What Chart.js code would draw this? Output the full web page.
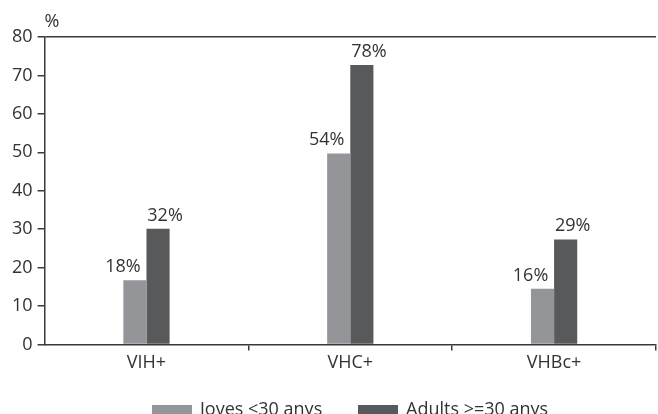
<!DOCTYPE html>
<html>
<head>
<meta charset="utf-8">
<script src="https://cdn.jsdelivr.net/npm/chart.js@4"></script>
<style>
  body { margin: 0; width: 658px; height: 414px; overflow: hidden; background: #fff; position: relative; }
  #wrap { position: absolute; left: 0; top: 0; width: 658px; height: 414px; }
  #legend { position: absolute; top: 397px; left: 0; width: 658px; font-family: "Open Sans", sans-serif; font-size: 18px; color: #333; }
  .item { position: absolute; top: 0; white-space: nowrap; line-height: 22px; }
  .box { display: inline-block; width: 40px; height: 17px; vertical-align: top; margin-top: 8px; margin-right: 8px; }
</style>
</head>
<body>
<div id="wrap"><canvas id="chart" width="658" height="414"></canvas></div>
<div id="legend"></div>
<script>
const categories = ['VIH+', 'VHC+', 'VHBc+'];
const seriesNames = ['Joves <30 anys', 'Adults >=30 anys'];
const joves = [16.7, 49.7, 14.5];
const adults = [30.1, 72.7, 27.3];
const jovesLabels = ['18%', '54%', '16%'];
const adultsLabels = ['32%', '78%', '29%'];
const colors = ['#939598', '#58595b'];

const axisColor = '#3a3a3a';
const textColor = '#333333';
const font = { family: '"Open Sans", sans-serif', size: 18 };

// value labels above the bars, shifted outward like the original
const barLabels = {
    id: 'barLabels',
    afterDatasetsDraw(chart) {
        const ctx = chart.ctx;
        const texts = [jovesLabels, adultsLabels];
        const dx = [-12, 7];
        ctx.save();
        ctx.font = '18px "Open Sans", sans-serif';
        ctx.fillStyle = textColor;
        ctx.textAlign = 'center';
        ctx.textBaseline = 'alphabetic';
        chart.data.datasets.forEach((ds, d) => {
            chart.getDatasetMeta(d).data.forEach((bar, i) => {
                ctx.fillText(texts[d][i], bar.x + dx[d], bar.y - 8);
            });
        });
        // unit above the y axis
        ctx.textAlign = 'left';
        ctx.fillText('%', chart.chartArea.left, 27);
        ctx.restore();
    }
};

new Chart(document.getElementById('chart'), {
    type: 'bar',
    data: {
        labels: categories,
        datasets: [
            { label: seriesNames[0], data: joves, backgroundColor: colors[0], categoryPercentage: 0.227, barPercentage: 1 },
            { label: seriesNames[1], data: adults, backgroundColor: colors[1], categoryPercentage: 0.227, barPercentage: 1 }
        ]
    },
    options: {
        responsive: false,
        animation: false,
        layout: { padding: { left: 7, right: 2, top: 37, bottom: 38 } },
        plugins: { legend: { display: false }, tooltip: { enabled: false } },
        scales: {
            x: {
                offset: true,
                grid: {
                    offset: true,
                    drawOnChartArea: false,
                    tickLength: 6,
                    lineWidth: 1.5,
                    tickColor: ctx => ctx.index === 0 ? 'rgba(0,0,0,0)' : axisColor
                },
                border: { color: axisColor, width: 1.5 },
                ticks: { color: textColor, font: font, padding: 2 }
            },
            y: {
                min: 0,
                max: 80,
                ticks: { stepSize: 10, color: textColor, font: font, padding: 5 },
                grid: {
                    tickLength: 7,
                    lineWidth: 1.5,
                    color: ctx => ctx.tick && ctx.tick.value === 80 ? axisColor : 'rgba(0,0,0,0)',
                    tickColor: axisColor
                },
                border: { color: axisColor, width: 1.5 }
            }
        }
    },
    plugins: [barLabels]
});

// legend under the chart
const legend = document.getElementById('legend');
const legendX = [152, 358];
seriesNames.forEach((name, i) => {
    const item = document.createElement('div');
    item.className = 'item';
    item.style.left = legendX[i] + 'px';
    const box = document.createElement('span');
    box.className = 'box';
    box.style.background = colors[i];
    item.appendChild(box);
    item.appendChild(document.createTextNode(name));
    legend.appendChild(item);
});
</script>
</body>
</html>
